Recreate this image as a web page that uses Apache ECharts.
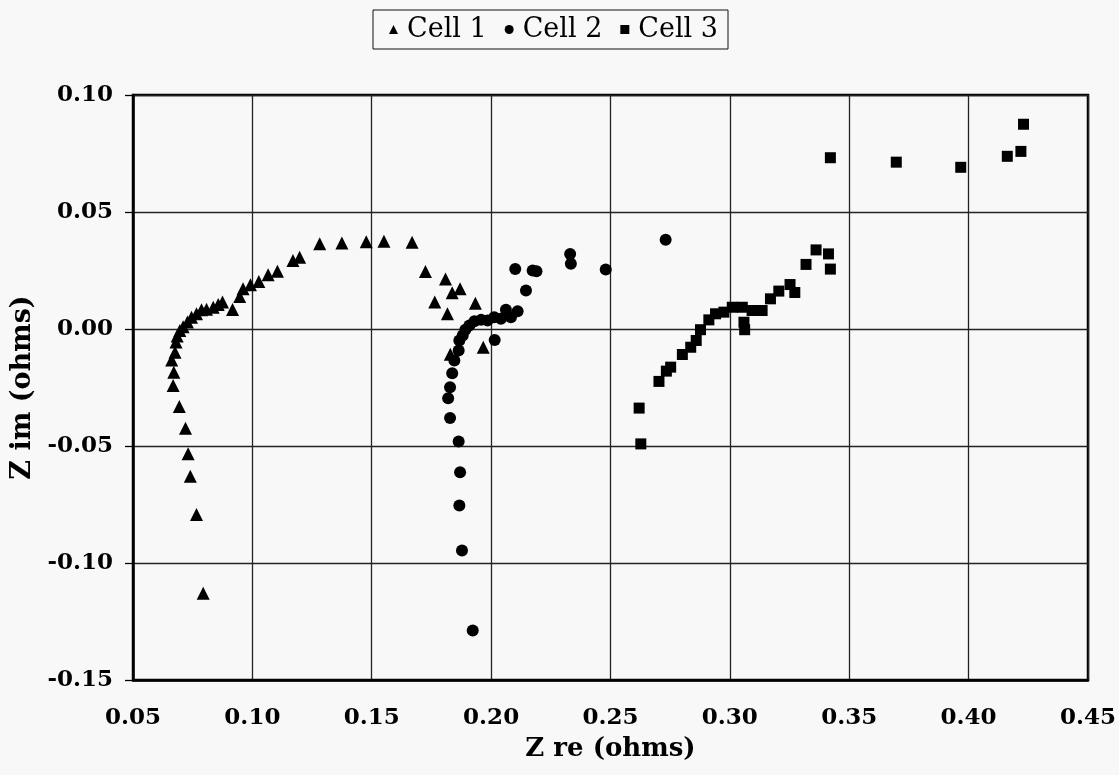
<!DOCTYPE html>
<html><head><meta charset="utf-8">
<script src="https://cdn.jsdelivr.net/npm/echarts@6/dist/echarts.min.js"></script>
<style>html,body{margin:0;padding:0;background:#f8f8f8;}#c{width:1119px;height:775px;}</style>
</head><body><div id="c"></div>
<script>
const seriesNames = ['Cell 1', 'Cell 2', 'Cell 3'];
const xTicks = [0.05, 0.45, 0.05];   // min, max, interval
const yTicks = [-0.15, 0.10, 0.05];

const cell1X = [0.0794,0.0766,0.0740,0.0731,0.0720,0.0694,0.0668,0.0671,0.0662,0.0676,0.0680,0.0685,0.0696,0.0710,0.0728,0.0745,0.0766,0.0787,0.0808,0.0836,0.0857,0.0875,0.0917,0.0947,0.0961,0.0992,0.1027,0.1066,0.1105,0.1170,0.1198,0.1282,0.1375,0.1477,0.1551,0.1669,0.1725,0.1809,0.1870,0.1837,0.1764,0.1934,0.1817,0.1829,0.1967];
const cell1Y = [-0.1129,-0.0793,-0.0629,-0.0533,-0.0424,-0.0331,-0.0241,-0.0185,-0.0132,-0.0099,-0.0056,-0.0030,-0.0006,0.0010,0.0030,0.0050,0.0065,0.0082,0.0084,0.0093,0.0105,0.0115,0.0083,0.0139,0.0172,0.0189,0.0203,0.0232,0.0247,0.0293,0.0307,0.0364,0.0368,0.0373,0.0375,0.0371,0.0246,0.0214,0.0172,0.0155,0.0115,0.0110,0.0065,-0.0108,-0.0078];

const cell2X = [0.1923,0.1878,0.1867,0.1870,0.1864,0.1828,0.1820,0.1828,0.1837,0.1846,0.1864,0.1867,0.1881,0.1892,0.1909,0.1930,0.1958,0.1985,0.2013,0.2041,0.2083,0.2062,0.2111,0.2146,0.2101,0.2174,0.2190,0.2331,0.2334,0.2480,0.2731,0.2015];
const cell2Y = [-0.1288,-0.0947,-0.0754,-0.0612,-0.0481,-0.0380,-0.0296,-0.0249,-0.0189,-0.0135,-0.0092,-0.0049,-0.0028,-0.0003,0.0015,0.0033,0.0039,0.0036,0.0050,0.0044,0.0050,0.0082,0.0076,0.0165,0.0256,0.0250,0.0247,0.0321,0.0279,0.0254,0.0381,-0.0047];

const cell3X = [0.2627,0.2620,0.2703,0.2734,0.2752,0.2801,0.2836,0.2859,0.2877,0.2912,0.2940,0.2975,0.3010,0.3052,0.3059,0.3062,0.3093,0.3135,0.3170,0.3205,0.3252,0.3272,0.3319,0.3361,0.3413,0.3421,0.3421,0.3697,0.3967,0.4162,0.4219,0.4230];
const cell3Y = [-0.0491,-0.0338,-0.0224,-0.0180,-0.0163,-0.0109,-0.0078,-0.0049,-0.0003,0.0039,0.0065,0.0072,0.0093,0.0093,0.0029,-0.0003,0.0079,0.0079,0.0129,0.0162,0.0190,0.0156,0.0276,0.0338,0.0321,0.0256,0.0732,0.0713,0.0691,0.0738,0.0759,0.0875];

function pairs(xs, ys){ return xs.map((x,i)=>[x, ys[i]]); }
function fmt(v){ return Math.abs(v) < 1e-9 ? '0.00' : v.toFixed(2); }

const FONT = 'DejaVu Serif';
const chart = echarts.init(document.getElementById('c'));
chart.setOption({
  backgroundColor: '#f8f8f8',
  animation: false,
  legend: {
    left: 373, top: 10,
    padding: [6, 10, 6, 16],
    itemGap: 18,
    itemWidth: 9, itemHeight: 9,
    borderColor: '#111', borderWidth: 1,
    textStyle: { fontFamily: FONT, fontSize: 27, color: '#000', padding: [0,0,0,4] },
    data: [
      { name: seriesNames[0], icon: 'triangle' },
      { name: seriesNames[1], icon: 'circle' },
      { name: seriesNames[2], icon: 'rect' }
    ]
  },
  grid: { left: 133, right: 29, top: 95, bottom: 95, show: true, borderColor: '#000', borderWidth: 2.5, backgroundColor: 'transparent' },
  xAxis: {
    type: 'value', min: xTicks[0], max: xTicks[1], interval: xTicks[2],
    name: 'Z re (ohms)', nameLocation: 'middle', nameGap: 56,
    nameTextStyle: { fontFamily: FONT, fontSize: 26, fontWeight: 'bold', color: '#000' },
    axisLine: { show: true, onZero: false, lineStyle: { color: '#000', width: 2.5 } },
    axisTick: { show: false },
    axisLabel: { margin: 27, fontFamily: FONT, fontSize: 23, fontWeight: 'bold', color: '#000', formatter: fmt },
    splitLine: { show: true, lineStyle: { color: '#222', width: 1.3 } }
  },
  yAxis: {
    type: 'value', min: yTicks[0], max: yTicks[1], interval: yTicks[2],
    name: 'Z im (ohms)', nameLocation: 'middle', nameGap: 92, nameRotate: 90,
    nameTextStyle: { fontFamily: FONT, fontSize: 27, fontWeight: 'bold', color: '#000' },
    axisLine: { show: true, onZero: false, lineStyle: { color: '#000', width: 2.5 } },
    axisTick: { show: true, inside: false, length: 8, lineStyle: { color: '#000', width: 1.3 } },
    axisLabel: { margin: 20, fontFamily: FONT, fontSize: 23, fontWeight: 'bold', color: '#000', formatter: fmt },
    splitLine: { show: true, lineStyle: { color: '#222', width: 1.3 } }
  },
  series: [
    { name: seriesNames[0], type: 'scatter', symbol: 'triangle', symbolSize: 13, itemStyle: { color: '#000', opacity: 1 }, data: pairs(cell1X, cell1Y) },
    { name: seriesNames[1], type: 'scatter', symbol: 'circle', symbolSize: 12, itemStyle: { color: '#000', opacity: 1 }, data: pairs(cell2X, cell2Y) },
    { name: seriesNames[2], type: 'scatter', symbol: 'rect', symbolSize: 11, itemStyle: { color: '#000', opacity: 1 }, data: pairs(cell3X, cell3Y) }
  ]
});
</script></body></html>
